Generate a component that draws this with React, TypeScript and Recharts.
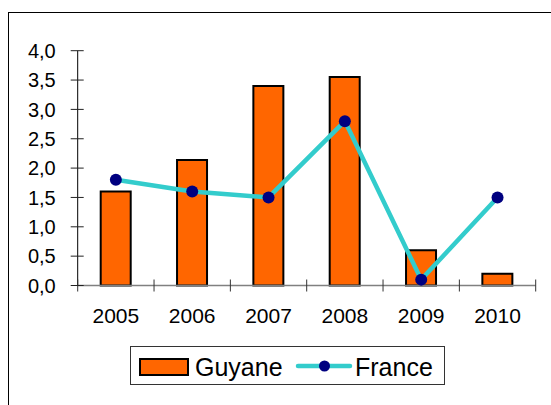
import { ComposedChart, Bar, Line, XAxis, YAxis } from "recharts"

const years = ["2005", "2006", "2007", "2008", "2009", "2010"]
const guyane = [1.6, 2.14, 3.4, 3.55, 0.6, 0.2]
const france = [1.8, 1.6, 1.5, 2.8, 0.1, 1.5]
const yTicks = [0, 0.5, 1, 1.5, 2, 2.5, 3, 3.5, 4]

const data = years.map((year, i) => ({
  year,
  Guyane: guyane[i],
  France: france[i],
}))

const FONT = "'Liberation Sans', Arial, sans-serif"
const ORANGE = "#FF6600"
const TEAL = "#33CCCC"
const NAVY = "#000080"

const fmt = (v: number) => v.toFixed(1).replace(".", ",")

function YTick(props: any) {
  const { x, y, payload } = props
  return (
    <g>
      <line x1={x - 7} x2={x + 6} y1={y} y2={y} stroke="#222" strokeWidth={1} />
      <text x={x - 22} y={y} dy="0.36em" textAnchor="end" fontSize={20} fill="#000" fontFamily={FONT}>
        {fmt(payload.value)}
      </text>
    </g>
  )
}

function XTick(props: any) {
  const { x, y, payload, index, visibleTicksCount } = props
  const off = payload.offset ?? 0
  const last = index === visibleTicksCount - 1
  return (
    <g>
      <line x1={x - off} x2={x - off} y1={y - 6} y2={y + 6} stroke="#333" strokeWidth={1} />
      {last && (
        <line x1={x + off} x2={x + off} y1={y - 6} y2={y + 6} stroke="#333" strokeWidth={1} />
      )}
      <text x={x} y={y + 37.5} textAnchor="middle" fontSize={21} fill="#000" fontFamily={FONT}>
        {payload.value}
      </text>
    </g>
  )
}

function LegendBox() {
  return (
    <div
      style={{
        position: "absolute",
        left: 130,
        top: 346,
        width: 315,
        height: 39,
        border: "1px solid #333",
        background: "#fff",
        fontFamily: FONT,
        fontSize: 25,
        color: "#000",
        boxSizing: "border-box",
      }}
    >
      <svg width={315} height={39} style={{ position: "absolute", left: 0, top: 0 }}>
        <rect x={9} y={12} width={48} height={16} fill={ORANGE} stroke="#000" strokeWidth={2} />
        <text x={64} y={29} fontSize={25} fontFamily={FONT}>Guyane</text>
        <line x1={167} x2={219} y1={19} y2={19} stroke={TEAL} strokeWidth={4.5} strokeLinecap="round" />
        <circle cx={193.5} cy={19} r={5.5} fill={NAVY} />
        <text x={224} y={29} fontSize={25} fontFamily={FONT}>France</text>
      </svg>
    </div>
  )
}

export default function App() {
  return (
    <div
      style={{
        position: "absolute",
        left: 0,
        top: 0,
        width: 551,
        height: 405,
        overflow: "hidden",
        background: "#fff",
      }}
    >
      <div
        style={{
          position: "absolute",
          left: 8,
          top: 12,
          width: 600,
          height: 500,
          border: "1px solid #000",
        }}
      />
      <div style={{ position: "absolute", left: 0, top: 0 }}>
        <ComposedChart
          width={551}
          height={405}
          data={data}
          margin={{ top: 50.7, right: 15.3, bottom: 79.5, left: 7.7 }}
        >
          <XAxis
            dataKey="year"
            height={40}
            tickSize={0}
            tickMargin={0}
            tickLine={false}
            axisLine={{ stroke: "#808080", strokeWidth: 1.5 }}
            tick={<XTick />}
            interval={0}
          />
          <YAxis
            width={70}
            domain={[0, 4]}
            ticks={yTicks}
            tickSize={0}
            tickMargin={0}
            tickLine={false}
            axisLine={{ stroke: "#000", strokeWidth: 1 }}
            tick={<YTick />}
            interval={0}
          />
          <Bar
            dataKey="Guyane"
            fill={ORANGE}
            stroke="#000"
            strokeWidth={2}
            barSize={30}
            isAnimationActive={false}
          />
          <Line
            dataKey="France"
            stroke={TEAL}
            strokeWidth={4.5}
            dot={{ r: 6, fill: NAVY, stroke: NAVY, strokeWidth: 0 }}
            activeDot={false}
            isAnimationActive={false}
          />
        </ComposedChart>
      </div>
      <LegendBox />
    </div>
  )
}
